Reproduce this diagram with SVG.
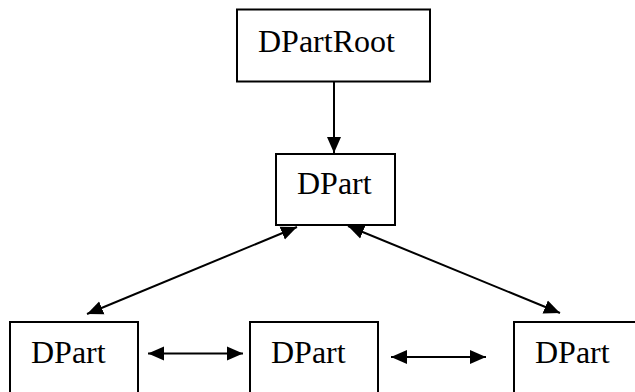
<svg xmlns="http://www.w3.org/2000/svg" width="635" height="392" viewBox="0 0 635 392">
<style>
.box{fill:#fff;stroke:#000;stroke-width:2}
.con{stroke:#000;stroke-width:2;fill:none}
</style>
<defs>
<marker id="ah" markerUnits="userSpaceOnUse" markerWidth="17" markerHeight="15" refX="16" refY="7" orient="auto-start-reverse" viewBox="0 0 17 14">
<path d="M0,0 L16,7 L0,14 z" fill="#000"/>
</marker>
</defs>
<rect width="635" height="392" fill="#fff"/>
<g font-family="Liberation Serif, Times New Roman, serif" font-size="32" fill="#000">
<g id="root"><rect class="box" x="237" y="9.5" width="193" height="72"/><text x="258" y="52">DPartRoot</text></g>
<g id="mid"><rect class="box" x="276" y="154" width="119" height="71"/><text x="297" y="194">DPart</text></g>
<g id="left"><rect class="box" x="10" y="322" width="128" height="80"/><text x="31" y="363">DPart</text></g>
<g id="center"><rect class="box" x="250" y="322" width="128" height="80"/><text x="271" y="363">DPart</text></g>
<g id="right"><rect class="box" x="514" y="322" width="140" height="80"/><text x="535" y="363">DPart</text></g>
</g>
<g id="connectors">
<line class="con" x1="334" y1="82" x2="334" y2="153" marker-end="url(#ah)"/>
<line class="con" x1="297" y1="227" x2="87" y2="314" marker-start="url(#ah)" marker-end="url(#ah)"/>
<line class="con" x1="348" y1="226" x2="560" y2="313" marker-start="url(#ah)" marker-end="url(#ah)"/>
<line class="con" x1="148" y1="353.5" x2="243" y2="353.5" marker-start="url(#ah)" marker-end="url(#ah)"/>
<line class="con" x1="391" y1="357" x2="486" y2="357" marker-start="url(#ah)" marker-end="url(#ah)"/>
</g>
</svg>
